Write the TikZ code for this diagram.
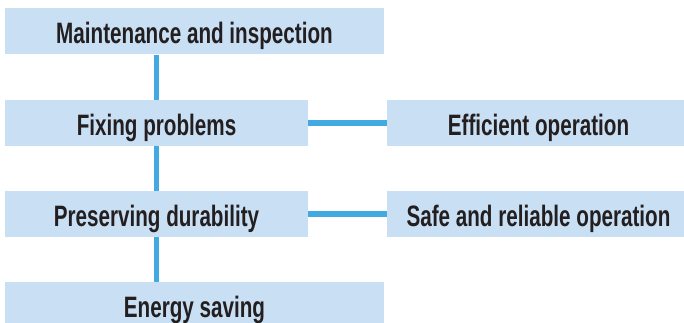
\documentclass[tikz,border=0pt]{standalone}
\usepackage{fontspec}
\setmainfont{Liberation Sans}[FakeStretch=0.7]
\definecolor{boxblue}{HTML}{C9DFF3}
\definecolor{lineblue}{HTML}{42AAE0}
\definecolor{inkgray}{HTML}{231F20}
\begin{document}
\begin{tikzpicture}[x=1pt,y=-1pt,
  box/.style={fill=boxblue,inner sep=0pt,minimum height=46pt,text=inkgray,
    text height=25pt,text depth=0pt,font=\fontsize{29.5}{33}\selectfont\bfseries},
  link/.style={draw=lineblue,line width=5.5pt}]
  \useasboundingbox (0,0) rectangle (684,323);
  \clip (0,0) rectangle (684,323);
  \def\wl{379pt}\def\ws{303pt}
  \node[box,minimum width=\wl] (maint) at (194.5,31.5) {Maintenance and inspection};
  \node[box,minimum width=\ws] (fix) at (156.5,123) {Fixing problems};
  \node[box,minimum width=\ws] (pres) at (156.5,214) {Preserving durability};
  \node[box,minimum width=\wl] (energy) at (194.5,305) {Energy saving};
  \node[box,minimum width=\ws] (eff) at (538.5,123) {Efficient operation};
  \node[box,minimum width=\ws] (safe) at (538.5,214) {Safe and reliable operation};
  \draw[link] (maint.south -| fix.north) -- (fix.north);
  \draw[link] (fix.south) -- (pres.north);
  \draw[link] (pres.south) -- (pres.south |- energy.north);
  \draw[link] (fix.east) -- (eff.west);
  \draw[link] (pres.east) -- (safe.west);
\end{tikzpicture}
\end{document}
